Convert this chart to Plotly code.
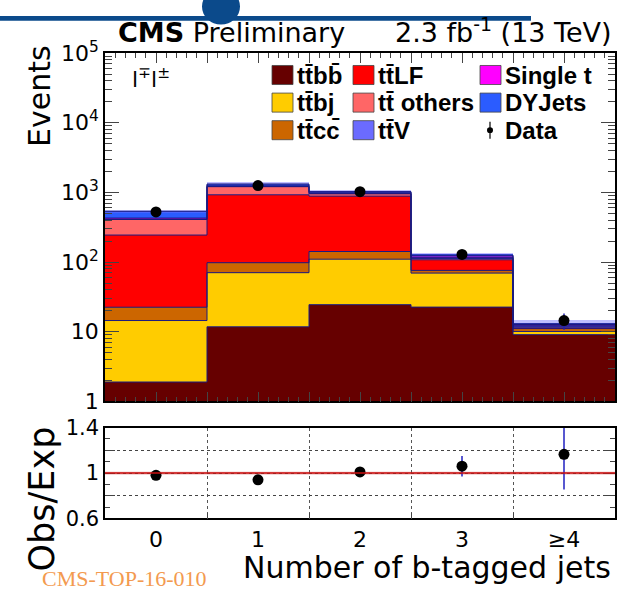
import plotly.graph_objects as go

# ---------------- data ----------------
bin_labels = ["0", "1", "2", "3", "≥4"]
bin_centers = [0, 1, 2, 3, 4]
bin_edges = [-0.5, 0.5, 1.5, 2.5, 3.5, 4.5]

ttbb = [1.9, 11.8, 24.5, 22.6, 9.1]
ttbj = [12.6, 58.7, 85.5, 46.9, 1.0]
ttcc = [8.0, 27.5, 32.0, 6.5, 1.0]
ttLF = [222, 827, 743, 32, 0.5]
ttothers = [165, 285, 70, 5, 0.4]
ttV = [4, 12, 12, 4, 0.4]
singlet = [15, 50, 40, 6, 0.3]
dyjets = [108, 50, 18, 3, 0.3]

data = [526, 1255, 1025, 129, 14.5]
data_err = [23, 35, 32, 11, 3.8]
unc_frac = [0.05, 0.05, 0.05, 0.06, 0.12]

ratio = [0.98, 0.94, 1.01, 1.06, 1.165]
ratio_err = [0.03, 0.02, 0.02, 0.09, 0.31]

main_yticks = [1, 10, 100, 1000, 10000, 100000]
main_yticktext = ["1", "10", "10<sup>2</sup>", "10<sup>3</sup>", "10<sup>4</sup>", "10<sup>5</sup>"]
ratio_yticks = [0.6, 0.8, 1.0, 1.2, 1.4]
ratio_yticktext = ["0.6", "", "1", "", "1.4"]

samples = [
    ("tt\u0304bb\u0304", ttbb, "#660000"),
    ("tt\u0304bj", ttbj, "#ffcc00"),
    ("tt\u0304cc\u0304", ttcc, "#cc6600"),
    ("tt\u0304LF", ttLF, "#ff0000"),
    ("tt\u0304 others", ttothers, "#ff6666"),
    ("tt\u0304V", ttV, "#6b6bff"),
    ("Single t", singlet, "#ff00ff"),
    ("DYJets", dyjets, "#2b5cff"),
]

W, H = 630, 600
def X(px):
    return px / W
def Y(py):
    return 1 - py / H

FONT = "DejaVu Sans"
LEGFONT = "Liberation Sans"
OUTLINE = "#1a1a80"

fig = go.Figure()

# stacked histogram
cum = [0.0] * 5
for name, vals, col in samples:
    fig.add_trace(go.Bar(x=bin_centers, y=vals, width=1, name=name,
                         marker=dict(color=col, line=dict(width=0)),
                         xaxis="x", yaxis="y", showlegend=False))
for name, vals, col in samples:
    cum = [c + v for c, v in zip(cum, vals)]
    fig.add_trace(go.Scatter(x=bin_edges, y=cum + [cum[-1]], mode="lines",
                             line=dict(shape="hv", color=OUTLINE, width=1),
                             xaxis="x", yaxis="y", showlegend=False, hoverinfo="skip"))
total = cum
# uncertainty band
fig.add_trace(go.Bar(x=bin_centers, y=[t * 2 * u for t, u in zip(total, unc_frac)],
                     base=[t * (1 - u) for t, u in zip(total, unc_frac)], width=1,
                     marker=dict(color="rgba(110,110,255,0.45)", line=dict(width=0)),
                     xaxis="x", yaxis="y", showlegend=False))
# data
fig.add_trace(go.Scatter(x=bin_centers, y=data, mode="markers",
                         marker=dict(color="black", size=11),
                         error_y=dict(type="data", array=data_err, color="#2020b0",
                                      thickness=1.5, width=0),
                         xaxis="x", yaxis="y", showlegend=False))
# ratio
fig.add_trace(go.Scatter(x=bin_centers, y=ratio, mode="markers",
                         marker=dict(color="black", size=11),
                         error_y=dict(type="data", array=ratio_err, color="#2020c0",
                                      thickness=1.5, width=0),
                         xaxis="x2", yaxis="y2", showlegend=False, cliponaxis=True))

x0, x1 = X(105), X(615)
main_top, main_bot = Y(39), Y(405)
rat_top, rat_bot = Y(432.5), Y(528)

common_x = dict(range=[-0.5, 4.5], showgrid=False, zeroline=False,
                showline=True, linecolor="black", linewidth=1.5)

fig.update_layout(
    width=W, height=H,
    margin=dict(l=0, r=0, t=0, b=0),
    paper_bgcolor="white", plot_bgcolor="white",
    barmode="stack", bargap=0,
    font=dict(family=FONT, color="black"),
    xaxis=dict(domain=[x0, x1], anchor="y", mirror="allticks",
               tickmode="linear", tick0=-0.5, dtick=0.5, ticks="inside", ticklen=10,
               showticklabels=False,
               minor=dict(ticks="inside", ticklen=5, dtick=0.1, tick0=-0.5),
               **common_x),
    yaxis=dict(domain=[main_bot, main_top], anchor="x", type="log", range=[0, 5],
               tickvals=main_yticks, ticktext=main_yticktext,
               ticks="inside", ticklen=14, mirror="allticks",
               minor=dict(ticks="inside", ticklen=7, dtick="D1"),
               showgrid=False, zeroline=False, showline=True, linecolor="black", linewidth=1.5,
               tickfont=dict(size=22, family=FONT)),
    xaxis2=dict(domain=[x0, x1], anchor="y2", mirror=True,
                tickvals=bin_centers, ticktext=bin_labels, ticks="",
                tickfont=dict(size=22, family=FONT),
                minor=dict(tickvals=[0.5, 1.5, 2.5, 3.5], ticks="inside", ticklen=6,
                           showgrid=True, gridcolor="#555555", griddash="dot", gridwidth=1),
                **common_x),
    yaxis2=dict(domain=[rat_bot, rat_top], anchor="x2", range=[0.6, 1.4],
                tickvals=ratio_yticks, ticktext=ratio_yticktext,
                ticks="inside", ticklen=10, mirror="allticks",
                minor=dict(ticks="inside", ticklen=5, dtick=0.1, tick0=0.6),
                showgrid=True, gridcolor="#444444", griddash="dot", gridwidth=1,
                zeroline=False, showline=True, linecolor="black", linewidth=1.5,
                tickfont=dict(size=21, family=FONT)),
)

shapes = []
# ratio reference line with band
shapes.append(dict(type="rect", xref="x2 domain", yref="y2", x0=0, x1=1, y0=0.988, y1=1.012,
                   fillcolor="rgba(215,120,120,0.6)", line=dict(width=0), layer="below"))
shapes.append(dict(type="line", xref="x2 domain", yref="y2", x0=0, x1=1, y0=1, y1=1,
                   line=dict(color="#cc1111", width=1.5)))
# top banner
shapes.append(dict(type="rect", xref="paper", yref="paper", x0=0, x1=X(531), y0=Y(5), y1=1,
                   fillcolor="#0b4a8b", line=dict(width=0)))
shapes.append(dict(type="circle", xref="paper", yref="paper", x0=X(202), x1=X(240),
                   y0=Y(9), y1=Y(-29), fillcolor="#0b4a8b", line=dict(width=0)))

annotations = []
# legend (3 columns)
leg_cols = [272, 353, 480]
leg_rows = [62, 91, 120]
order = [0, 3, 6, 1, 4, 7, 2, 5]  # sample index per grid cell, row-wise
cells = [(r, c) for r in range(3) for c in range(3)]
for k, idx in enumerate(order):
    r, c = cells[k]
    name, _, col = samples[idx]
    lx, ly = leg_cols[c], leg_rows[r]
    shapes.append(dict(type="rect", xref="paper", yref="paper",
                       x0=X(lx), x1=X(lx + 21), y0=Y(ly + 10), y1=Y(ly - 10),
                       fillcolor=col, line=dict(color="#444444", width=0.8)))
    annotations.append(dict(text="<b>%s</b>" % name, xref="paper", yref="paper",
                            x=X(lx + 23), y=Y(ly), xanchor="left", yanchor="middle",
                            showarrow=False, font=dict(size=24, family=LEGFONT)))
# Data legend entry (last cell)
lx, ly = leg_cols[2], leg_rows[2]
shapes.append(dict(type="line", xref="paper", yref="paper", x0=X(lx + 10), x1=X(lx + 10),
                   y0=Y(ly + 9), y1=Y(ly - 9), line=dict(color="black", width=1.2)))
shapes.append(dict(type="circle", xref="paper", yref="paper", x0=X(lx + 7), x1=X(lx + 13),
                   y0=Y(ly + 3), y1=Y(ly - 3), fillcolor="black", line=dict(width=0)))
annotations.append(dict(text="<b>Data</b>", xref="paper", yref="paper",
                        x=X(lx + 23), y=Y(ly), xanchor="left", yanchor="middle",
                        showarrow=False, font=dict(size=24, family=LEGFONT)))

# channel label
annotations.append(dict(text="l<sup>∓</sup>l<sup>±</sup>", xref="paper", yref="paper",
                        x=X(130), y=Y(65), xanchor="left", yanchor="middle",
                        showarrow=False, font=dict(size=22, family=FONT)))
# header
annotations.append(dict(text="<b>CMS</b> Preliminary", xref="paper", yref="paper",
                        x=X(116), y=Y(36), xanchor="left", yanchor="bottom",
                        showarrow=False, font=dict(size=27, family=FONT)))
annotations.append(dict(text="2.3 fb<sup>-1</sup> (13 TeV)", xref="paper", yref="paper",
                        x=X(614), y=Y(36), xanchor="right", yanchor="bottom",
                        showarrow=False, font=dict(size=27, family=FONT)))
# axis titles
annotations.append(dict(text="Events", xref="paper", yref="paper", textangle=-90,
                        x=X(40), y=Y(84), xanchor="center", yanchor="middle",
                        showarrow=False, font=dict(size=30, family=FONT)))
annotations.append(dict(text="Obs/Exp", xref="paper", yref="paper", textangle=-90,
                        x=X(42), y=Y(508), xanchor="center", yanchor="middle",
                        showarrow=False, font=dict(size=35, family=FONT)))
annotations.append(dict(text="Number of b-tagged jets", xref="paper", yref="paper",
                        x=X(613), y=Y(580), xanchor="right", yanchor="middle",
                        showarrow=False, font=dict(size=30, family=FONT)))
annotations.append(dict(text="CMS-TOP-16-010", xref="paper", yref="paper",
                        x=X(40), y=Y(591), xanchor="left", yanchor="middle",
                        showarrow=False, font=dict(size=22, family="Liberation Serif",
                                                   color="#f39a4f")))

fig.update_layout(shapes=shapes, annotations=annotations)
fig.write_html("out.html")
